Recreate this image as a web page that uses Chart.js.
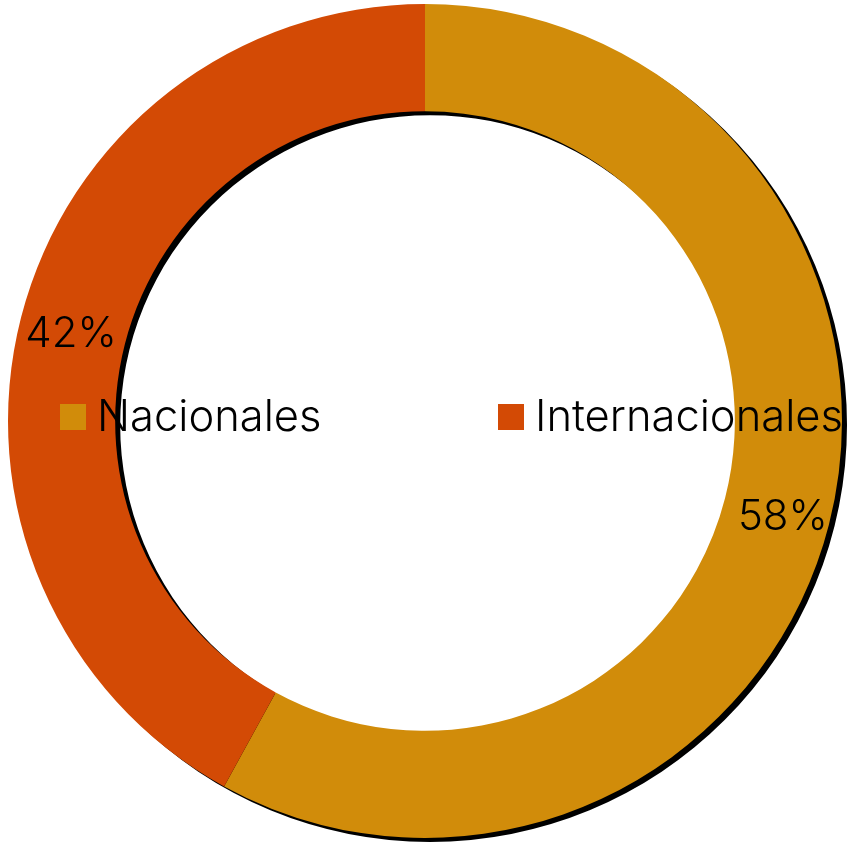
<!DOCTYPE html>
<html>
<head>
<meta charset="utf-8">
<script src="https://cdn.jsdelivr.net/npm/chart.js@4/dist/chart.umd.min.js"></script>
<style>
  html, body { margin: 0; padding: 0; background: #fff; }
  #wrap { width: 850px; height: 847px; position: relative; }
</style>
</head>
<body>
<div id="wrap"><canvas id="chartDonut"></canvas></div>
<script>
const labels = ["Nacionales", "Internacionales"];
const values = [58, 42];
const colors = ["#D18C0A", "#D34A05"];

const FONT = "Inter, 'Open Sans', sans-serif";

// hard black shadow under the whole ring
const ringShadow = {
  id: "ringShadow",
  beforeDatasetsDraw(chart) {
    const arc = chart.getDatasetMeta(0).data[0];
    if (!arc) return;
    const ctx = chart.ctx;
    ctx.save();
    ctx.translate(5, 4);
    ctx.beginPath();
    ctx.arc(arc.x, arc.y, arc.outerRadius, 0, Math.PI * 2);
    ctx.arc(arc.x, arc.y, arc.innerRadius, Math.PI * 2, 0, true);
    ctx.fillStyle = "#000";
    ctx.fill("evenodd");
    ctx.restore();
  }
};

// percentage labels + centred legend
const overlay = {
  id: "overlay",
  afterDraw(chart) {
    const ctx = chart.ctx;
    const meta = chart.getDatasetMeta(0);
    const total = values.reduce((a, b) => a + b, 0);
    ctx.save();
    ctx.fillStyle = "#000";
    ctx.textAlign = "center";
    ctx.textBaseline = "middle";
    ctx.font = "300 42px " + FONT;
    meta.data.forEach((a, i) => {
      const mid = (a.startAngle + a.endAngle) / 2;
      const r = (a.innerRadius + a.outerRadius) / 2 + 4;
      const x = a.x + Math.cos(mid) * r + 2;
      const y = a.y + Math.sin(mid) * r + 5;
      ctx.fillText(Math.round(values[i] / total * 100) + "%", x, y);
    });

    // legend row
    ctx.font = "300 43.5px " + FONT;
    ctx.textAlign = "left";
    const legendX = [60, 498];
    const legendY = 417;
    labels.forEach((l, i) => {
      ctx.fillStyle = colors[i];
      ctx.fillRect(legendX[i], legendY - 13, 26, 26);
      ctx.fillStyle = "#000";
      ctx.fillText(l, legendX[i] + 37, legendY + 1);
    });
    ctx.restore();
  }
};

new Chart(document.getElementById("chartDonut"), {
  type: "doughnut",
  data: {
    labels: labels,
    datasets: [{
      data: values,
      backgroundColor: colors,
      borderWidth: 0,
      hoverBorderWidth: 0,
      hoverOffset: 0,
      offset: 0
    }]
  },
  options: {
    responsive: true,
    maintainAspectRatio: false,
    animation: false,
    cutout: "74.3%",
    layout: { padding: { top: 4, bottom: 9, left: 0, right: 0 } },
    plugins: {
      legend: { display: false },
      tooltip: { enabled: false }
    },
    events: []
  },
  plugins: [ringShadow, overlay]
});
</script>
</body>
</html>
